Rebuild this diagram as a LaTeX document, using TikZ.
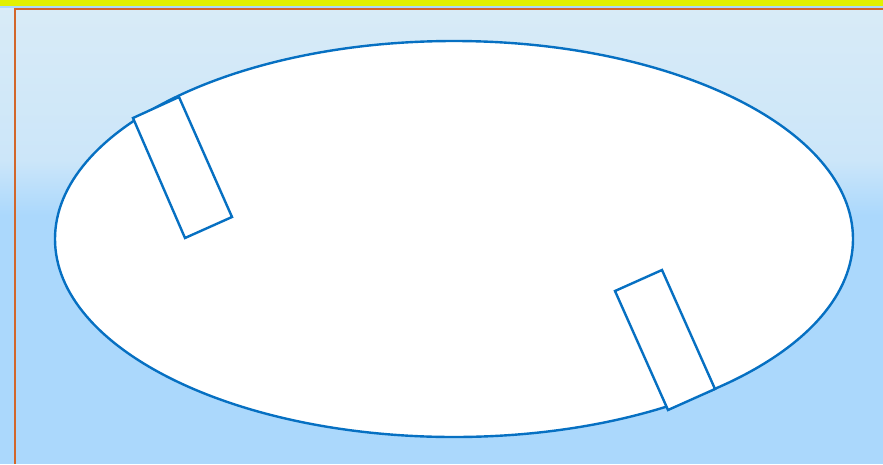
\documentclass[tikz,border=0pt]{standalone}
\usetikzlibrary{shapes.geometric}
\begin{document}
\begin{tikzpicture}[x=1pt,y=-1pt,
  shapeline/.style={draw=ellblue,line width=2.4pt,fill=white,line join=miter}]
\definecolor{ellblue}{HTML}{0670C2}
\definecolor{topbg}{HTML}{D8EBF7}
\definecolor{midbg}{HTML}{CCE6F9}
\definecolor{botbg}{HTML}{ABD8FC}
\definecolor{stripy}{HTML}{E2F000}
\definecolor{frameor}{HTML}{D2662A}
\useasboundingbox (0,0) rectangle (883,464);
% background
\fill[botbg] (0,0) rectangle (883,464);
\shade[top color=topbg,bottom color=midbg] (0,8) rectangle (883,160);
\shade[top color=midbg,bottom color=botbg] (0,159.5) rectangle (883,215);
\fill[stripy] (0,0) rectangle (883,6);
% frame lines
\draw[frameor,line width=1.6pt] (15,464) -- (15,9) -- (883,9);
% ellipse
\node[shapeline,ellipse,minimum width=798pt,minimum height=396pt,inner sep=0pt] (ell) at (454,239) {};
% rectangles
\draw[shapeline] (133,118) coordinate (r1a) -- (179,97) coordinate (r1b) -- (232,217) coordinate (r1c) -- (185,238) coordinate (r1d) -- cycle;
\draw[shapeline] (615,291) coordinate (r2a) -- (662,270) coordinate (r2b) -- (715,389) coordinate (r2c) -- (668,410) coordinate (r2d) -- cycle;
\end{tikzpicture}
\end{document}
